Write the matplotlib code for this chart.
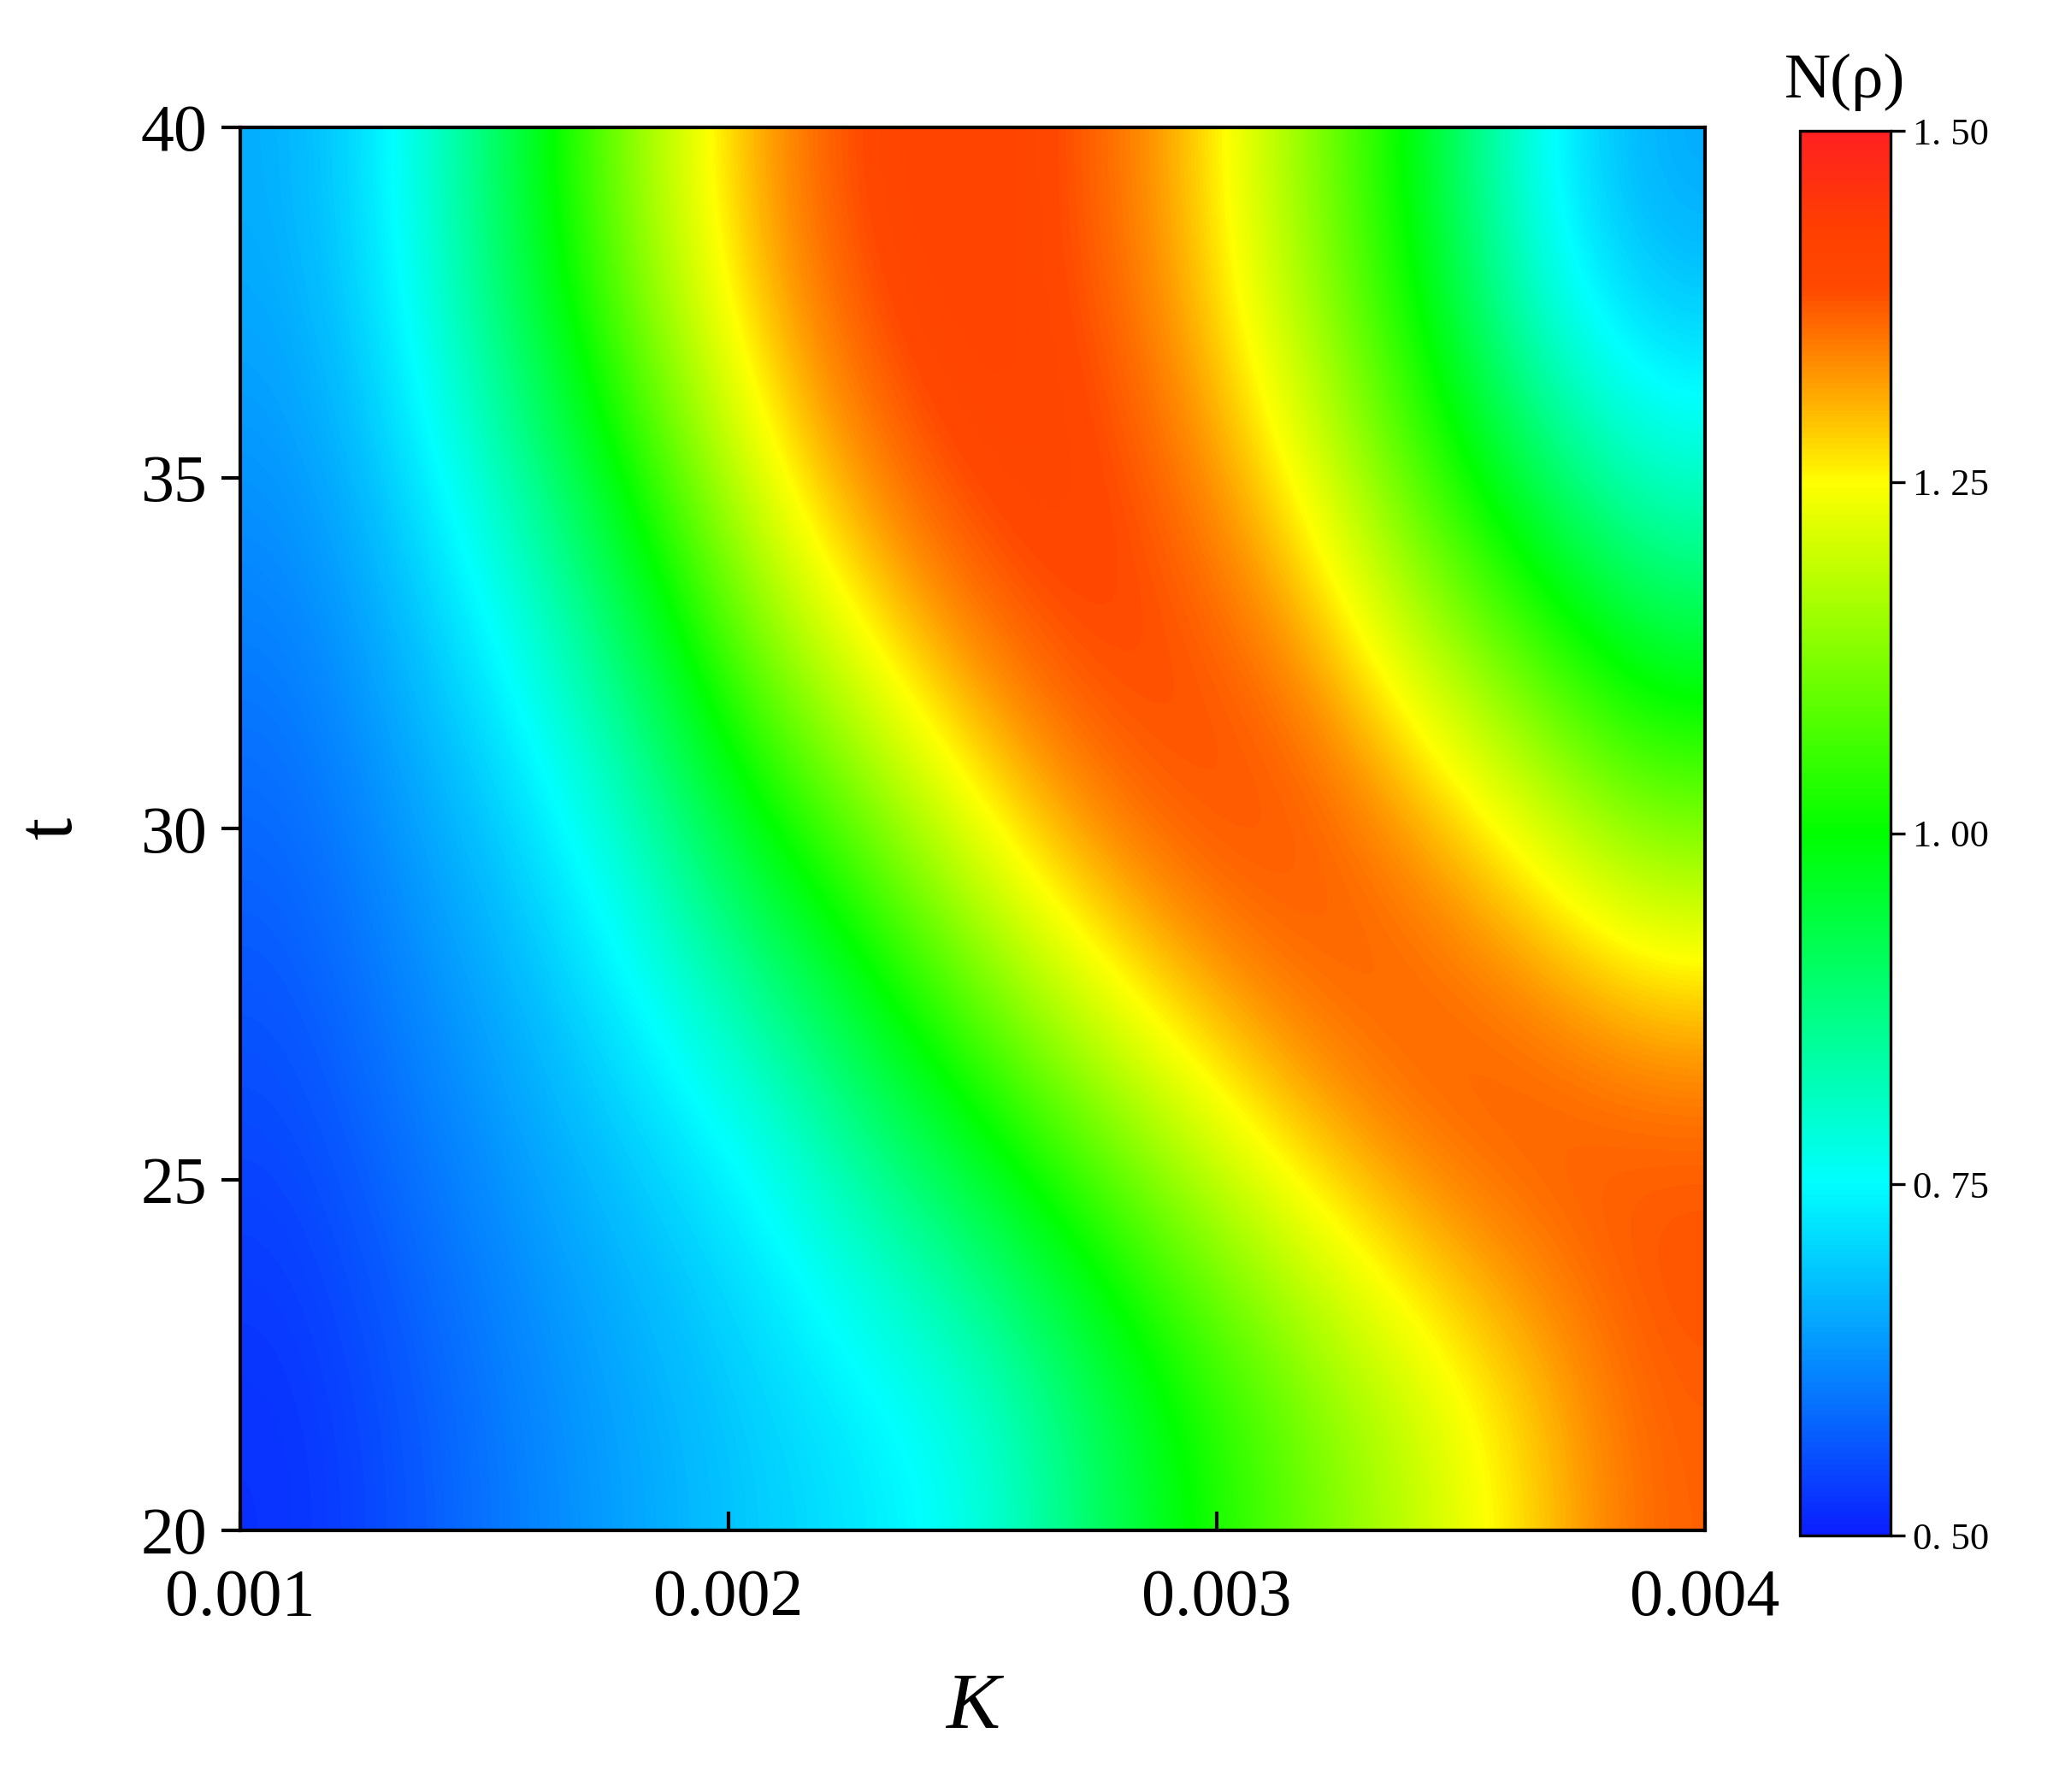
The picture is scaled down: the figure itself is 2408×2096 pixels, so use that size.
import numpy as np
import matplotlib
matplotlib.use("Agg")
import matplotlib.pyplot as plt
from matplotlib.colors import LinearSegmentedColormap

K_vals = [0.001,0.00125,0.0015,0.00175,0.002,0.00225,0.0025,0.00275,0.003,0.00325,0.0035,0.00375,0.004]
t_vals = [20,25,30,35,40]
N_t20 = [0.52,0.56,0.61,0.65,0.69,0.72,0.76,0.88,1.00,1.10,1.19,1.28,1.37]
N_t25 = [0.55,0.60,0.65,0.70,0.75,0.87,1.00,1.12,1.23,1.33,1.40,1.42,1.40]
N_t30 = [0.58,0.64,0.70,0.80,0.97,1.10,1.24,1.35,1.41,1.41,1.34,1.23,1.12]
N_t35 = [0.62,0.69,0.80,0.97,1.18,1.32,1.40,1.42,1.37,1.27,1.10,0.97,0.85]
N_t40 = [0.66,0.76,0.95,1.15,1.31,1.40,1.42,1.38,1.29,1.13,0.97,0.75,0.65]
cbar_ticks = [0.5,0.75,1.0,1.25,1.5]
cbar_labels = ["0. 50","0. 75","1. 00","1. 25","1. 50"]

Z = np.array([N_t20,N_t25,N_t30,N_t35,N_t40])

cmap = LinearSegmentedColormap.from_list("c", [
    (0.0,"#0a1eff"),(0.25,"#00ffff"),(0.5,"#00ff00"),(0.75,"#ffff00"),
    (0.82,"#ffa000"),(0.89,"#ff4800"),(0.93,"#ff4000"),(1.0,"#ff2020")])

plt.rcParams['font.family'] = ['Liberation Serif','DejaVu Serif']
fig = plt.figure(figsize=(12.04,10.48), dpi=200)
ax = fig.add_axes([0.1167,0.146,0.7113,0.783])
im = ax.imshow(Z, origin='lower', aspect='auto', cmap=cmap, vmin=0.5, vmax=1.5,
               extent=[K_vals[0],K_vals[-1],t_vals[0],t_vals[-1]], interpolation='bicubic')
ax.set_xlim(0.001,0.004); ax.set_ylim(20,40)
ax.set_xticks([0.001,0.002,0.003,0.004]); ax.set_xticklabels(["0.001","0.002","0.003","0.004"])
ax.set_yticks([20,25,30,35,40])
ax.tick_params(axis='x', direction='in', length=8, width=1.5, labelsize=28, pad=16)
ax.tick_params(axis='y', direction='out', length=8, width=1.5, labelsize=28, pad=6)
for s in ax.spines.values(): s.set_linewidth(1.5)
ax.set_xlabel("K", fontsize=34, style='italic', labelpad=18)
ax.set_ylabel("t", fontsize=34, labelpad=22)

cax = fig.add_axes([0.874,0.143,0.044,0.784])
cb = fig.colorbar(im, cax=cax, ticks=cbar_ticks)
cb.ax.set_yticklabels(cbar_labels)
cb.ax.tick_params(labelsize=16, length=6, width=1.2)
cb.outline.set_linewidth(1.2)
cax.set_title("N(ρ)", fontsize=27, pad=14)
fig.savefig("out.png", dpi=200)
